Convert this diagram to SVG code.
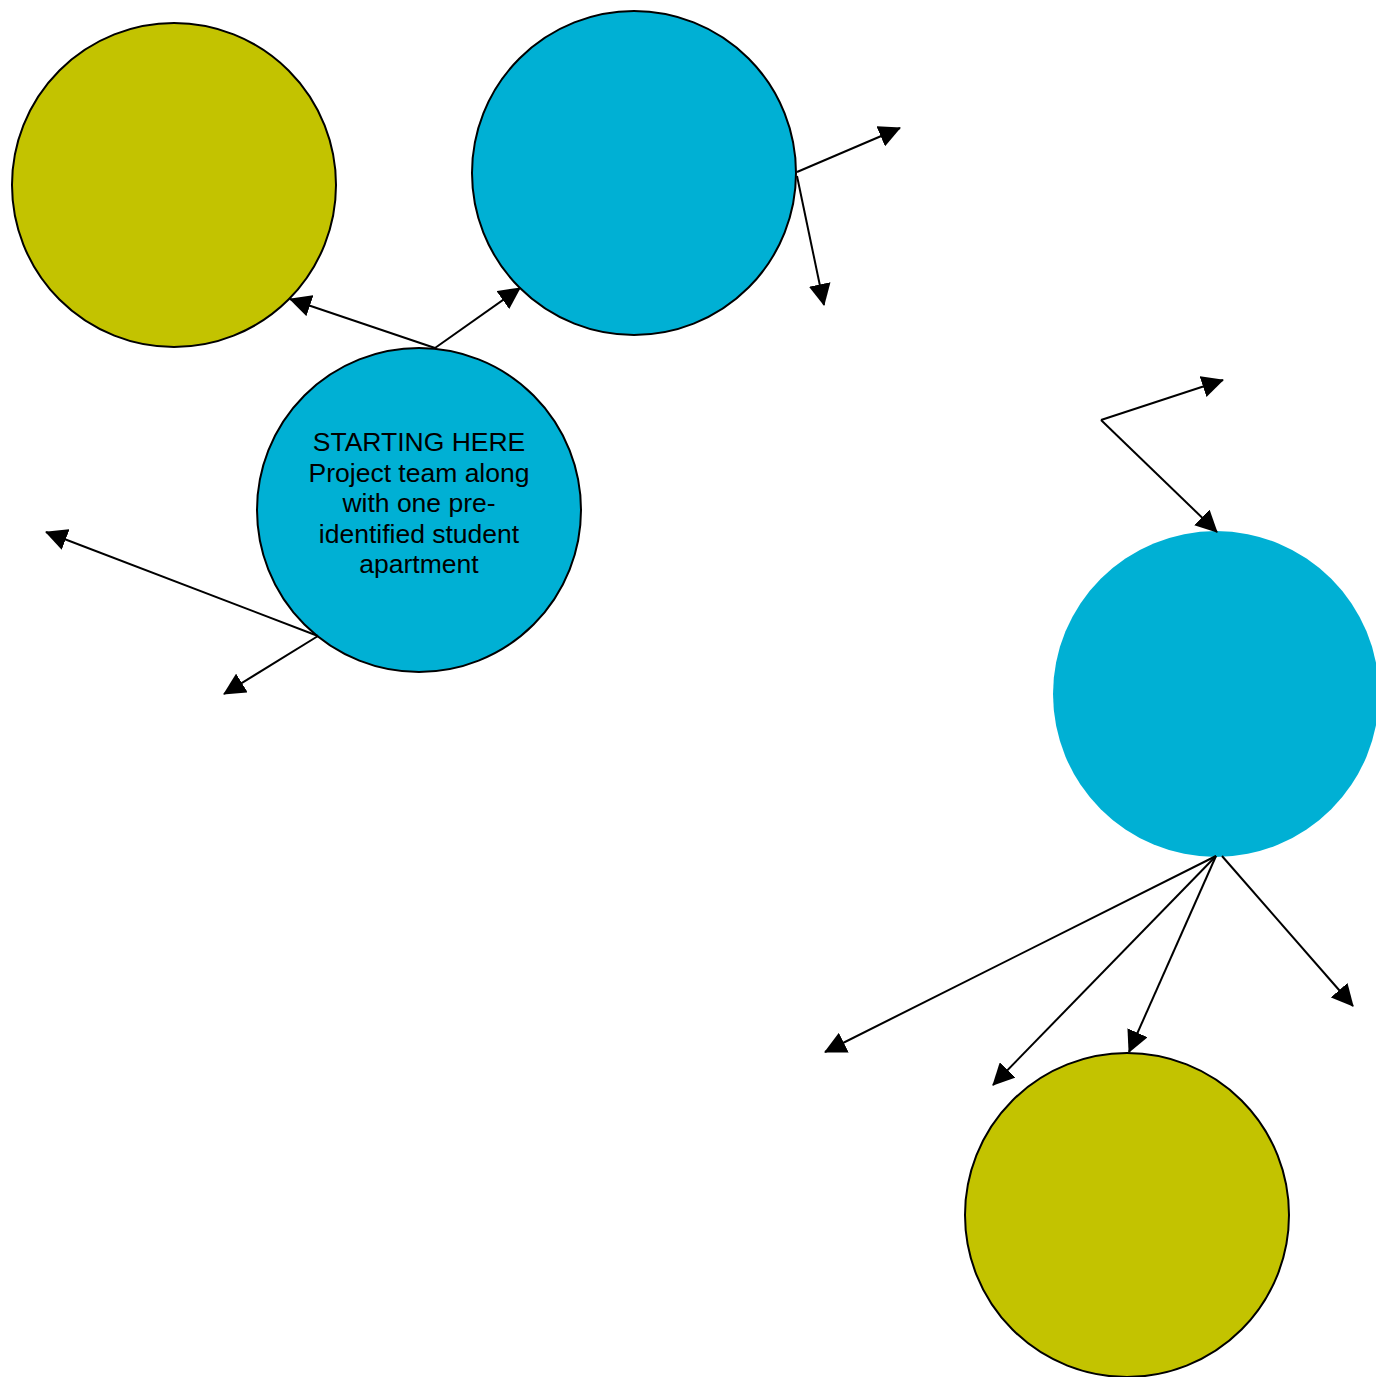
<svg xmlns="http://www.w3.org/2000/svg" width="1376" height="1377" viewBox="0 0 1376 1377">
<style>
.olive{fill:#c3c300;stroke:#000;stroke-width:2}
.blue{fill:#00b0d4;stroke:#000;stroke-width:2}
.blue-ns{fill:#00b0d4;stroke:none}
.conn line{stroke:#000;stroke-width:2;marker-end:url(#arr)}
.lbl{font-family:"Liberation Sans",Arial,sans-serif;font-size:26.5px;fill:#000;text-anchor:middle}
</style>
<defs>
<marker id="arr" markerUnits="userSpaceOnUse" markerWidth="22" markerHeight="22" viewBox="0 0 22 22" refX="21" refY="11" orient="auto">
<path d="M0,0 L22,11 L0,22 z" fill="#000"/>
</marker>
</defs>
<rect width="1376" height="1377" fill="#fff"/>
<g id="node-olive-top"><circle class="olive" cx="174" cy="185" r="162"/></g>
<g id="node-blue-top"><circle class="blue" cx="634" cy="173" r="162"/></g>
<g id="node-start"><circle class="blue" cx="419" cy="510" r="162"/>
<text class="lbl"><tspan x="419" y="451">STARTING HERE</tspan><tspan x="419" y="481.5">Project team along</tspan><tspan x="419" y="512">with one pre-</tspan><tspan x="419" y="542.5">identified student</tspan><tspan x="419" y="573">apartment</tspan></text>
</g>
<g id="node-blue-right"><circle class="blue-ns" cx="1216" cy="694" r="163"/></g>
<g id="node-olive-bottom"><circle class="olive" cx="1127" cy="1215" r="162"/></g>
<g id="connectors" class="conn">
<line x1="435" y1="348" x2="290" y2="299"/>
<line x1="435" y1="348" x2="520" y2="288"/>
<line x1="797" y1="172" x2="900" y2="128"/>
<line x1="797" y1="176" x2="824" y2="305"/>
<line x1="1101" y1="420" x2="1223" y2="380"/>
<line x1="1101" y1="420" x2="1217" y2="532"/>
<line x1="318" y1="636" x2="46" y2="532"/>
<line x1="318" y1="636" x2="224" y2="694"/>
<line x1="1216" y1="856" x2="825" y2="1052"/>
<line x1="1216" y1="856" x2="993" y2="1085"/>
<line x1="1216" y1="856" x2="1129" y2="1052"/>
<line x1="1222" y1="856" x2="1353" y2="1006"/>
</g>
</svg>
